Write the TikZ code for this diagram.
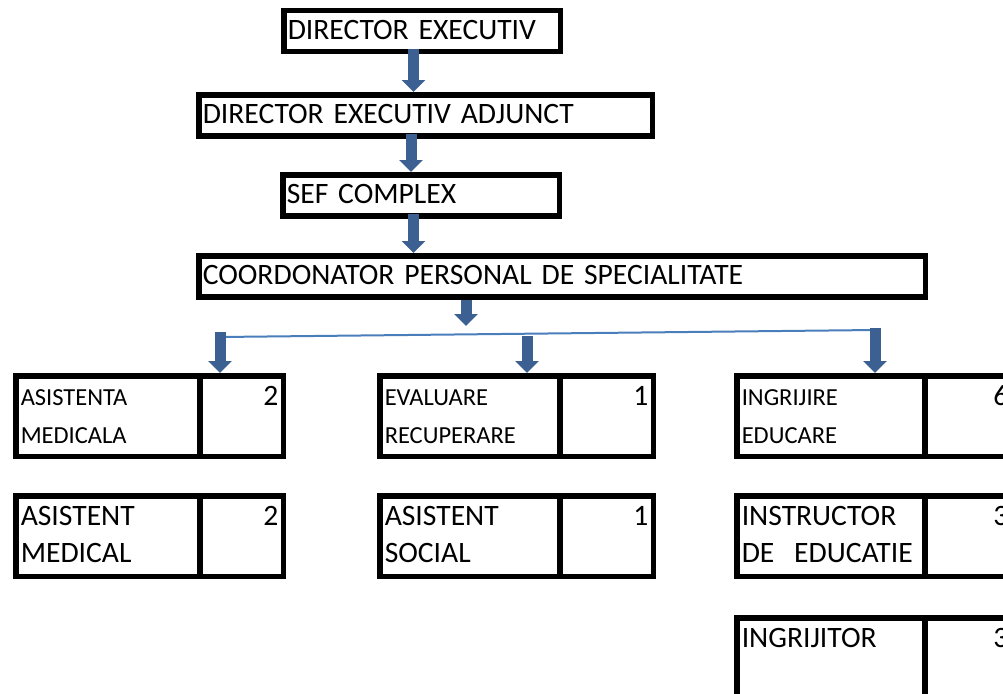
\documentclass[tikz,border=0pt]{standalone}
\usepackage{fontspec}
\setmainfont{Carlito}
\usetikzlibrary{arrows.meta}
\definecolor{arrowblue}{RGB}{60,96,145}
\definecolor{lineblue}{RGB}{74,126,187}
\begin{document}
\begin{tikzpicture}[x=1pt,y=-1pt,anchor=north west,
  orgframe/.style={draw, line width=5.5pt, inner ysep=0pt, align=left},
  orgbox/.style={orgframe, inner xsep=4pt, text height=29pt, text depth=12pt, font=\fontsize{29.6}{35}\selectfont},
  cellbase/.style={orgframe, inner xsep=5pt, text height=29.25pt, text depth=51.25pt},
  cellsmall/.style={cellbase, font=\fontsize{24.5}{38}\selectfont},
  cellbig/.style={cellbase, font=\fontsize{29.6}{37}\selectfont},
  cellnum/.style={cellbase, align=right, font=\fontsize{29.6}{37}\selectfont},
  blockarrow/.style={draw=arrowblue, line width=11pt, -{Triangle[width=23pt,length=12pt]}},
  joinline/.style={draw=lineblue, line width=2pt}]
\clip (0,0) rectangle (1003,693);
\node[orgbox, text width=268.5pt] (de) at (281,8) {DIRECTOR EXECUTIV};
\node[orgbox, text width=445.5pt] (dea) at (196,92) {DIRECTOR EXECUTIV ADJUNCT};
\node[orgbox, text width=268.5pt] (sef) at (280,172) {SEF COMPLEX};
\node[orgbox, text width=718.5pt] (coord) at (196,253) {COORDONATOR PERSONAL DE SPECIALITATE};
\draw[blockarrow] ([xshift=-8.5pt,yshift=5pt]de.south) coordinate (a1) -- (a1 |- dea.north);
\draw[blockarrow] ([xshift=-14.5pt,yshift=5pt]dea.south) coordinate (a2) -- (a2 |- sef.north);
\draw[blockarrow] ([xshift=-7.5pt,yshift=5pt]sef.south) coordinate (a3) -- (a3 |- coord.north);
\coordinate (a4) at (466,326);
\draw[blockarrow] (a4 |- coord.south) -- (a4);
% compartimente
\node[cellsmall, text width=174.25pt] (am) at (13,373) {ASISTENTA\\MEDICALA};
\node[cellnum, text width=73.25pt] (amn) at (197.25,373) {2};
\node[cellbig, text width=174.25pt] (asm) at (13,493) {ASISTENT\\MEDICAL};
\node[cellnum, text width=73.25pt] (asmn) at (197.25,493) {2};
\node[cellsmall, text width=170.25pt] (er) at (377,373) {EVALUARE\\RECUPERARE};
\node[cellnum, text width=83.25pt] (ern) at (557.25,373) {1};
\node[cellbig, text width=170.25pt] (as) at (377,493) {ASISTENT\\SOCIAL};
\node[cellnum, text width=83.25pt] (asn) at (557.25,493) {1};
\node[cellsmall, text width=178.25pt] (ie) at (734,373) {INGRIJIRE\\EDUCARE};
\node[cellnum, text width=78.25pt] (ien) at (922.25,373) {6};
\node[cellbig, text width=178.25pt] (ied) at (734,493) {INSTRUCTOR\\DE\ \ EDUCATIE};
\node[cellnum, text width=78.25pt] (iedn) at (922.25,493) {3};
\node[cellbig, text width=178.25pt] (ing) at (734,615) {INGRIJITOR};
\node[cellnum, text width=78.25pt] (ingn) at (922.25,615) {3};
% ramificare
\coordinate (jl) at (220,337);
\coordinate (jm) at (527,334);
\coordinate (jr) at (875,330);
\draw[joinline] (jl) -- (jr);
\draw[blockarrow] ([yshift=5pt]jl) coordinate (b1) -- (b1 |- amn.north);
\draw[blockarrow] ([yshift=-2pt]jm) coordinate (b2) -- (b2 |- ern.north);
\draw[blockarrow] ([yshift=2pt]jr) coordinate (b3) -- (b3 |- ien.north);
\end{tikzpicture}
\end{document}
